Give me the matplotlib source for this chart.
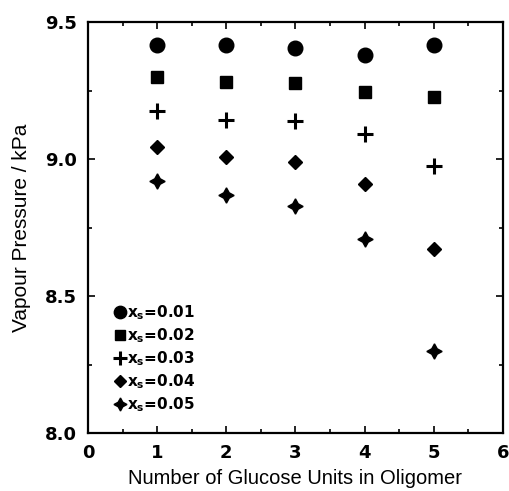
import matplotlib
matplotlib.use('Agg')
import matplotlib.pyplot as plt

# vapour pressure vs oligomer length, one series per solute mole fraction
units = [1, 2, 3, 4, 5]
p_001 = [9.416, 9.416, 9.405, 9.380, 9.416]
p_002 = [9.300, 9.280, 9.277, 9.245, 9.226]
p_003 = [9.175, 9.142, 9.139, 9.090, 8.975]
p_004 = [9.044, 9.007, 8.990, 8.910, 8.670]
p_005 = [8.920, 8.868, 8.830, 8.710, 8.300]
labels = ['$x_s$=0.01', '$x_s$=0.02', '$x_s$=0.03', '$x_s$=0.04', '$x_s$=0.05']

plt.rcParams['font.family'] = ['Liberation Sans', 'DejaVu Sans']
plt.rcParams['mathtext.fontset'] = 'custom'
plt.rcParams['mathtext.it'] = 'DejaVu Sans:bold'
plt.rcParams['mathtext.rm'] = 'DejaVu Sans:bold'

fig = plt.figure(figsize=(5.1, 4.91), dpi=100)
ax = fig.add_axes([0.1725, 0.118, 0.8135, 0.837])

series = [p_001, p_002, p_003, p_004, p_005]
markers = ['o', 's', '+', 'D', (4, 1, 0)]
sizes = [10.5, 8, 12, 7.5, 11]
for y, m, s, lab in zip(series, markers, sizes, labels):
    ax.plot(units, y, linestyle='none', marker=m, markersize=s, color='black',
            markeredgewidth=2.2 if m == '+' else 1, label=lab)

ax.set_xlim(0, 6)
ax.set_ylim(8.0, 9.5)
ax.set_xticks(range(0, 7))
ax.set_xticks([0.5, 1.5, 2.5, 3.5, 4.5, 5.5], minor=True)
ax.set_yticks([8.0, 8.5, 9.0, 9.5])
ax.set_yticklabels(['8.0', '8.5', '9.0', '9.5'])
ax.set_yticks([8.25, 8.75, 9.25], minor=True)
ax.tick_params(which='both', direction='in', top=True, right=True, width=1.2)
ax.tick_params(which='major', length=5, labelsize=13, pad=8)
ax.tick_params(which='minor', length=3)
for lb in ax.get_xticklabels() + ax.get_yticklabels():
    lb.set_family('DejaVu Sans')
    lb.set_fontweight('bold')
for sp in ax.spines.values():
    sp.set_linewidth(1.6)

ax.set_xlabel('Number of Glucose Units in Oligomer', fontsize=14.5, labelpad=5)
ax.set_ylabel('Vapour Pressure / kPa', fontsize=15, labelpad=10)

leg = ax.legend(loc='lower left', bbox_to_anchor=(0.045, 0.028), frameon=False,
                handlelength=0.7, handletextpad=0.15, labelspacing=0.28,
                borderpad=0, markerscale=0.85,
                prop={'family': 'DejaVu Sans', 'size': 11, 'weight': 'bold'})

plt.savefig('out.png')
